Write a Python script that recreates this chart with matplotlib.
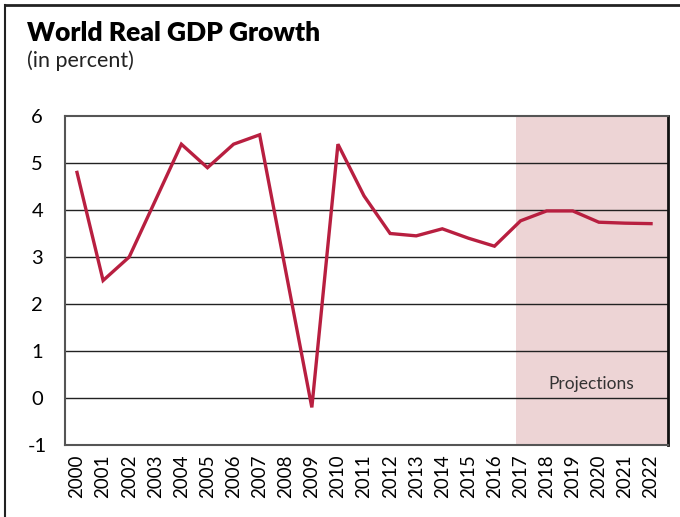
import matplotlib
matplotlib.use("Agg")
import matplotlib.pyplot as plt
from matplotlib.lines import Line2D

years = [str(y) for y in range(2000, 2023)]
growth = [4.8, 2.5, 3.0, 4.2, 5.4, 4.9, 5.4, 5.6, 2.7, -0.2, 5.4, 4.3,
          3.5, 3.45, 3.6, 3.4, 3.23, 3.77, 3.98, 3.98, 3.74, 3.72, 3.71]
yticks = [-1, 0, 1, 2, 3, 4, 5, 6]
proj_label = "Projections"

plt.rcParams['font.family'] = ['Lato', 'DejaVu Sans']

fig = plt.figure(figsize=(6.8, 5.17), dpi=100)
ax = fig.add_axes([65/680, 1 - 445/517, (668-65)/680, (445-116)/517])

x = list(range(len(years)))
ax.axvspan(16.84, 22.65, color='#EDD4D5', zorder=0, lw=0)
for v in yticks[1:-1]:
    ax.axhline(v, color='#222222', lw=1.0, zorder=1)
ax.plot(x, growth, color='#B81F40', lw=2.4, solid_joinstyle='miter', zorder=3)

ax.set_xlim(-0.46, 22.65)
ax.set_ylim(-1, 6)
ax.set_yticks(yticks)
ax.set_yticklabels([str(v) for v in yticks], fontsize=14.5)
ax.set_xticks(x)
ax.set_xticklabels(years, rotation=90, fontsize=13.5)
ax.tick_params(length=0, pad=7)
ax.tick_params(axis='y', pad=20)
for lab in ax.get_yticklabels():
    lab.set_horizontalalignment('center')

for s in ['left', 'top', 'bottom']:
    ax.spines[s].set_color('#555555')
    ax.spines[s].set_linewidth(1.5)
ax.spines['right'].set_color('#111111')
ax.spines['right'].set_linewidth(2)

ax.text(19.7, 0.3, proj_label, ha='center', va='center', fontsize=12.5, color='#333333')

fig.text(27/680, 1 - 33/517, "World Real GDP Growth", fontsize=19, fontweight='heavy',
         ha='left', va='center', color='black')
fig.text(27/680, 1 - 61/517, "(in percent)", fontsize=15.5, ha='left', va='center', color='#222222')

# frame lines (top and left)
fig.add_artist(Line2D([5/680, 1], [1 - 5/517, 1 - 5/517], color='#222222', lw=2, transform=fig.transFigure))
fig.add_artist(Line2D([5/680, 5/680], [0, 1 - 5/517], color='#222222', lw=1.5, transform=fig.transFigure))

fig.savefig("out.png", dpi=100)
